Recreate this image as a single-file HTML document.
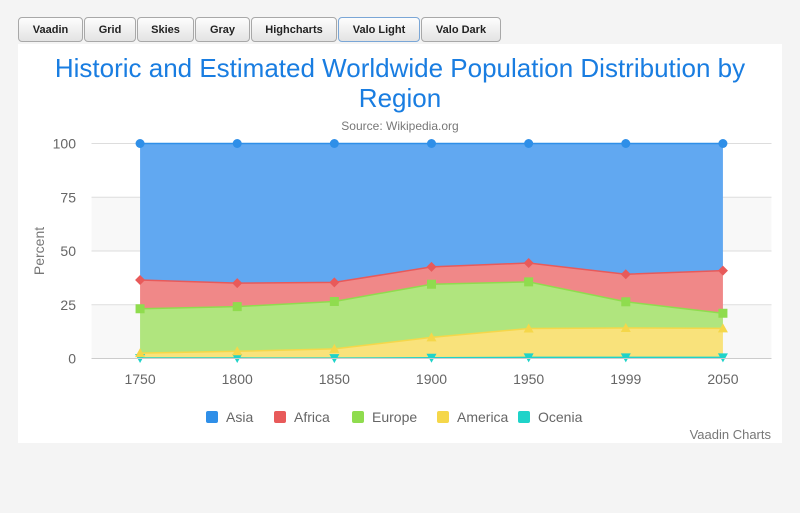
<!DOCTYPE html>
<html><head><meta charset="utf-8"><style>
body{margin:0;width:800px;height:513px;background:#f4f4f4;font-family:"Liberation Sans",sans-serif;overflow:hidden;position:relative}
.btns{position:absolute;left:18px;top:17px;display:flex;gap:1px}
.btn{height:25px;box-sizing:border-box;border:1px solid #a8a8a8;border-radius:4px;background:linear-gradient(#fdfdfd,#e3e3e3);font:bold 11px "Liberation Sans",sans-serif;color:#222;text-align:center;line-height:25px}
.btn.sel{border-color:#7aa6d6}
.card{position:absolute;left:18px;top:44px;width:764px;height:399px;background:#fff}
svg{position:absolute;left:0;top:0}
</style></head><body>
<div class="btns">
<div class="btn" style="width:65px">Vaadin</div>
<div class="btn" style="width:52px">Grid</div>
<div class="btn" style="width:57px">Skies</div>
<div class="btn" style="width:55px">Gray</div>
<div class="btn" style="width:86px">Highcharts</div>
<div class="btn sel" style="width:82px">Valo Light</div>
<div class="btn" style="width:80px">Valo Dark</div>
</div>
<div class="card"></div>
<svg id="c" width="800" height="513">
<text x="400" y="77" text-anchor="middle" font-size="26" fill="#197de1">Historic and Estimated Worldwide Population Distribution by</text>
<text x="400" y="107" text-anchor="middle" font-size="26" fill="#197de1">Region</text>
<text x="400" y="130" text-anchor="middle" font-size="12" fill="#777">Source: Wikipedia.org</text>
<text x="44" y="251" text-anchor="middle" font-size="14" fill="#777" transform="rotate(-90 44 251)">Percent</text>
<text x="771" y="439" text-anchor="end" font-size="13" fill="#777">Vaadin Charts</text>
<g id="plot"></g>
</svg>
<script>
const categories=['1750','1800','1850','1900','1950','1999','2050'];
const seriesNames=['Asia','Africa','Europe','America','Ocenia'];
const asia=[502,635,809,947,1402,3634,5268];
const africa=[106,107,111,133,221,767,1766];
const europe=[163,203,276,408,547,729,628];
const america=[18,31,54,156,339,818,1201];
const oceania=[2,2,2,6,13,30,46];
const yTicks=[0,25,50,75,100];
const NS='http://www.w3.org/2000/svg';
const g=document.getElementById('plot');
const L=91.5,R=771.5,T=143.5,B=358.5;
const step=(R-L)/categories.length;
const xs=i=>L+step*(i+0.5);
const ys=v=>B-(B-T)*v/100;
function mk(t,a,p){const e=document.createElementNS(NS,t);for(const k in a)e.setAttribute(k,a[k]);(p||g).appendChild(e);return e;}
for(let i=0;i<yTicks.length-1;i+=2){const r=mk('rect',{x:L,y:ys(yTicks[i+1]),width:R-L,height:ys(yTicks[i])-ys(yTicks[i+1]),fill:'#f8f8f8'});

}
yTicks.forEach(v=>{const l=mk('line',{x1:L,x2:R,y1:ys(v),y2:ys(v),stroke:'#ddd'});


const t=mk('text',{x:76,y:ys(v)+5,'text-anchor':'end','font-size':14,fill:'#666'});t.textContent=v;

});
categories.forEach((c,i)=>{const t=mk('text',{x:xs(i),y:384,'text-anchor':'middle','font-size':14,fill:'#666'});t.textContent=c;

});
const data=[asia,africa,europe,america,oceania];
const lineC=['#2f8fe8','#e85a5a','#8fdc4e','#f5d74a','#1fd3c9'];
const fillC=['#61a8f1','#f08888','#b0e57e','#f9e27b','#5fe0d8'];
const totals=categories.map((_,i)=>data.reduce((s,d)=>s+d[i],0));
const n=data.length;
const tops=[],bots=[];
let cum=categories.map(()=>0);
for(let s=n-1;s>=0;s--){bots[s]=cum.slice();cum=cum.map((c,i)=>c+data[s][i]/totals[i]*100);tops[s]=cum.slice();}
for(let s=0;s<n;s++){
 let d='';categories.forEach((_,i)=>d+=(i?'L':'M')+xs(i)+','+ys(tops[s][i]));
 for(let i=categories.length-1;i>=0;i--)d+='L'+xs(i)+','+ys(bots[s][i]);
 const a=mk('path',{d:d+'Z',fill:fillC[s]});
 
 
 let ld='';categories.forEach((_,i)=>ld+=(i?'L':'M')+xs(i)+','+ys(tops[s][i]));
 mk('path',{d:ld,fill:'none',stroke:lineC[s],'stroke-width':1.5});
}
function marker(s,x,y){
 let e;
 if(s==0)e=mk('circle',{cx:x,cy:y,r:4.5,fill:lineC[s]});
 else if(s==1)e=mk('path',{d:`M${x},${y-5}L${x+5},${y}L${x},${y+5}L${x-5},${y}Z`,fill:lineC[s]});
 else if(s==2)e=mk('rect',{x:x-4.5,y:y-4.5,width:9,height:9,fill:lineC[s]});
 else if(s==3)e=mk('path',{d:`M${x},${y-5}L${x+5},${y+4}L${x-5},${y+4}Z`,fill:lineC[s]});
 else e=mk('path',{d:`M${x-5},${y-4}L${x+5},${y-4}L${x},${y+5}Z`,fill:lineC[s]});
 return e;
}
for(let s=n-1;s>=0;s--)categories.forEach((_,i)=>{const m=marker(s,xs(i),ys(tops[s][i]));
 
 });
mk('line',{x1:L,x2:R,y1:B,y2:B,stroke:'#ccc'});
const lx=[206,274,352,437,518];
seriesNames.forEach((nm,s)=>{
 const r=mk('rect',{x:lx[s],y:411,width:12,height:12,rx:2,fill:lineC[s]});
 
 
 const t=mk('text',{x:lx[s]+20,y:422,'font-size':14,fill:'#666'});t.textContent=nm;
 
 
});
</script>
</body></html>
